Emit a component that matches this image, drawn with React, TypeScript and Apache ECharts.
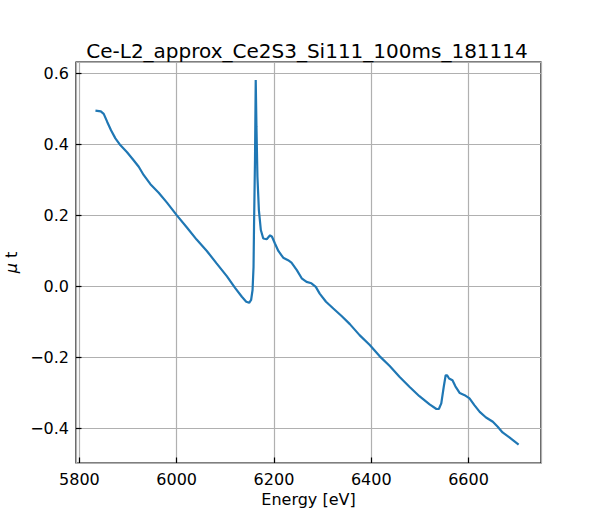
import React, { useEffect, useRef } from 'react';
import * as echarts from 'echarts';

// Energy (eV)
const energy = [
  5833, 5844, 5850, 5857, 5865, 5874, 5884, 5898, 5911, 5922, 5932, 5946, 5963, 5980,
  6000, 6021, 6041, 6062, 6082, 6103, 6120, 6134, 6143, 6149, 6153, 6156, 6158, 6159,
  6161, 6162.5, 6164, 6166, 6169, 6173, 6178, 6185, 6192, 6196, 6202, 6209, 6219, 6229,
  6236, 6247, 6257, 6267, 6277, 6286, 6294, 6307, 6322, 6339, 6356, 6376, 6397, 6417,
  6438, 6458, 6479, 6499, 6520, 6534, 6539, 6544, 6549, 6553, 6556, 6560, 6567, 6573,
  6582, 6592, 6602, 6612, 6623, 6636, 6650, 6660, 6670, 6684, 6703,
];

// mu t values
const mut = [
  0.494, 0.492, 0.485, 0.463, 0.439, 0.416, 0.397, 0.377, 0.355, 0.336, 0.313, 0.287, 0.263, 0.235,
  0.2, 0.165, 0.131, 0.099, 0.064, 0.028, -0.005, -0.03, -0.044, -0.047, -0.039, -0.011, 0.054, 0.167,
  0.355, 0.58, 0.449, 0.308, 0.214, 0.158, 0.134, 0.132, 0.143, 0.139, 0.12, 0.099, 0.08, 0.073,
  0.066, 0.045, 0.022, 0.012, 0.008, -0.002, -0.021, -0.044, -0.063, -0.084, -0.107, -0.138, -0.166, -0.197,
  -0.225, -0.255, -0.284, -0.31, -0.333, -0.346, -0.346, -0.33, -0.284, -0.251, -0.251, -0.26, -0.265, -0.282,
  -0.301, -0.307, -0.316, -0.335, -0.354, -0.37, -0.382, -0.396, -0.412, -0.426, -0.446,
];

const chartTitle = 'Ce-L2_approx_Ce2S3_Si111_100ms_181114';
const xLabel = 'Energy [eV]';

const FONT = 'DejaVu Sans';
const TICK_FONT = 16;

const App: React.FC = () => {
  const chartRef = useRef<HTMLDivElement>(null);

  useEffect(() => {
    document.body.style.margin = '0';
    if (!chartRef.current) return;

    const chart = echarts.init(chartRef.current, undefined, { renderer: 'svg' });

    const option: any = {
      animation: false,
      backgroundColor: '#fff',
      textStyle: { fontFamily: FONT },
      title: {
        text: chartTitle,
        left: 302,
        top: 36,
        textAlign: 'center',
        textStyle: { fontFamily: FONT, fontSize: 20, fontWeight: 'normal', color: '#000' },
      },
      grid: {
        left: 76,
        right: 59,
        top: 62,
        bottom: 57,
        containLabel: false,
        outerBoundsMode: 'none',
        show: true,
        borderColor: '#000',
        borderWidth: 1.2,
        backgroundColor: 'transparent',
      },
      xAxis: {
        type: 'value',
        min: 5793,
        max: 6749,
        name: xLabel,
        nameLocation: 'middle',
        nameGap: 26,
        nameTextStyle: { fontFamily: FONT, fontSize: TICK_FONT, color: '#000' },
        axisLine: { show: false, onZero: false },
        axisTick: { show: true, inside: true, length: 5.5, lineStyle: { color: '#000', width: 1.2 } },
        axisLabel: {
          fontFamily: FONT,
          fontSize: TICK_FONT,
          color: '#000',
          margin: 8,
          showMinLabel: false,
          showMaxLabel: false,
          formatter: (v: number) => String(v),
        },
        splitLine: { show: true, lineStyle: { color: '#b0b0b0', width: 1.2 } },
      },
      yAxis: {
        type: 'value',
        min: -0.498,
        max: 0.631,
        name: '{mu|μ} t',
        nameLocation: 'middle',
        nameRotate: 90,
        nameGap: 53,
        nameTextStyle: {
          fontFamily: FONT,
          fontSize: TICK_FONT,
          color: '#000',
          rich: { mu: { fontFamily: FONT, fontSize: TICK_FONT, fontStyle: 'italic', color: '#000' } },
        },
        axisLine: { show: false, onZero: false },
        axisTick: { show: true, inside: true, length: 5.5, lineStyle: { color: '#000', width: 1.2 } },
        axisLabel: {
          fontFamily: FONT,
          fontSize: TICK_FONT,
          color: '#000',
          margin: 7,
          showMinLabel: false,
          showMaxLabel: false,
          formatter: (v: number) => {
            const s = v.toFixed(1);
            return s.startsWith('-') ? '\u2212' + s.slice(1) : s;
          },
        },
        splitLine: { show: true, lineStyle: { color: '#b0b0b0', width: 1.2 } },
      },
      series: [
        {
          type: 'line',
          data: energy.map((e, i) => [e, mut[i]]),
          showSymbol: false,
          smooth: false,
          lineStyle: { color: '#1f77b4', width: 2.2 },
          itemStyle: { color: '#1f77b4' },
        },
      ],
    };

    chart.setOption(option);

    return () => {
      chart.dispose();
    };
  }, []);

  return <div ref={chartRef} style={{ width: 600, height: 520 }} />;
};

export default App;
